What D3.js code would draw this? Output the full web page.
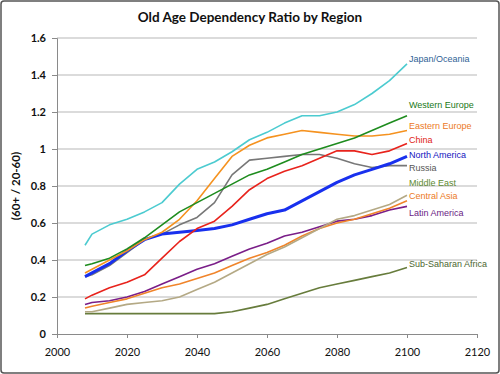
<!DOCTYPE html>
<html>
<head>
<meta charset="utf-8">
<script src="https://cdn.jsdelivr.net/npm/d3@7"></script>
<style>
  body { margin: 0; background: #fff; }
  svg { display: block; }
</style>
</head>
<body>
<div id="chart"></div>
<script>
var years = [2008, 2010, 2015, 2020, 2025, 2030, 2035, 2040, 2045, 2050, 2055, 2060, 2065, 2070, 2075, 2080, 2085, 2090, 2095, 2100];

var japan      = [0.48, 0.54, 0.59, 0.62, 0.66, 0.71, 0.81, 0.89, 0.93, 0.985, 1.05, 1.09, 1.14, 1.18, 1.18, 1.20, 1.24, 1.30, 1.37, 1.46];
var westEurope = [0.37, 0.38, 0.41, 0.46, 0.52, 0.59, 0.66, 0.71, 0.76, 0.81, 0.86, 0.89, 0.93, 0.97, 1.00, 1.03, 1.06, 1.10, 1.14, 1.18];
var eastEurope = [0.33, 0.35, 0.40, 0.45, 0.51, 0.55, 0.62, 0.72, 0.84, 0.96, 1.02, 1.06, 1.08, 1.10, 1.09, 1.08, 1.07, 1.07, 1.08, 1.10];
var china      = [0.19, 0.21, 0.25, 0.28, 0.32, 0.41, 0.50, 0.57, 0.61, 0.69, 0.78, 0.84, 0.88, 0.91, 0.95, 0.99, 0.99, 0.97, 0.99, 1.03];
var northAm    = [0.31, 0.33, 0.38, 0.45, 0.51, 0.54, 0.55, 0.56, 0.57, 0.59, 0.62, 0.65, 0.67, 0.72, 0.77, 0.82, 0.86, 0.89, 0.92, 0.96];
var russia     = [0.31, 0.32, 0.37, 0.44, 0.51, 0.54, 0.59, 0.63, 0.71, 0.86, 0.94, 0.95, 0.96, 0.97, 0.97, 0.95, 0.92, 0.90, 0.91, 0.91];
var middleEast = [0.12, 0.12, 0.14, 0.16, 0.17, 0.18, 0.20, 0.24, 0.28, 0.33, 0.38, 0.43, 0.47, 0.52, 0.57, 0.62, 0.64, 0.67, 0.70, 0.75];
var centralAsia= [0.14, 0.15, 0.17, 0.19, 0.22, 0.25, 0.27, 0.30, 0.33, 0.37, 0.41, 0.44, 0.48, 0.53, 0.57, 0.60, 0.62, 0.65, 0.68, 0.72];
var latinAm    = [0.16, 0.17, 0.18, 0.20, 0.23, 0.27, 0.31, 0.35, 0.38, 0.42, 0.46, 0.49, 0.53, 0.55, 0.58, 0.61, 0.62, 0.64, 0.67, 0.69];
var ssAfrica   = [0.11, 0.11, 0.11, 0.11, 0.11, 0.11, 0.11, 0.11, 0.11, 0.12, 0.14, 0.16, 0.19, 0.22, 0.25, 0.27, 0.29, 0.31, 0.33, 0.36];

var xTicks = [2000, 2020, 2040, 2060, 2080, 2100, 2120];
var yTicks = [0, 0.2, 0.4, 0.6, 0.8, 1, 1.2, 1.4, 1.6];

// label sits next to the line end, nudged by dy so they don't overlap
var series = [
  { name: "Japan/Oceania",      values: japan,       color: "#4ccbd0", text: "#2f5f95", dy: -5 },
  { name: "Western Europe",     values: westEurope,  color: "#1e8c1e", text: "#187818", dy: -11 },
  { name: "Eastern Europe",     values: eastEurope,  color: "#f5921f", text: "#ec7a26", dy: -5 },
  { name: "China",              values: china,       color: "#e8231c", text: "#e01a14", dy: -4 },
  { name: "North America",      values: northAm,     color: "#1830ee", text: "#1414c0", dy: -2, width: 3 },
  { name: "Russia",             values: russia,      color: "#777777", text: "#555555", dy: 2 },
  { name: "Middle East",        values: middleEast,  color: "#b4a985", text: "#5e8a30", dy: -12 },
  { name: "Central Asia",       values: centralAsia, color: "#f0842a", text: "#ec7a26", dy: -5 },
  { name: "Latin America",      values: latinAm,     color: "#7a1e88", text: "#6a1a84", dy: 6 },
  { name: "Sub-Saharan Africa", values: ssAfrica,    color: "#677c3c", text: "#4d6630", dy: -4 }
];

var W = 500, H = 374;
var margin = { top: 38, right: 23, bottom: 40, left: 57 };
var width = W - margin.left - margin.right;
var height = H - margin.top - margin.bottom;

var svg = d3.select("#chart").append("svg")
    .attr("width", W)
    .attr("height", H);

// outer frame
svg.append("rect")
    .attr("x", 1).attr("y", 1)
    .attr("width", W - 2).attr("height", H - 2)
    .attr("rx", 3)
    .attr("fill", "#fff")
    .attr("stroke", "#555")
    .attr("stroke-width", 1.5);

svg.append("text")
    .attr("x", 250).attr("y", 22)
    .attr("text-anchor", "middle")
    .style("font-family", "Lato, 'Open Sans', sans-serif")
    .style("font-weight", "bold")
    .style("font-size", "13.5px")
    .attr("fill", "#111")
    .text("Old Age Dependency Ratio by Region");

var g = svg.append("g")
    .attr("transform", "translate(" + margin.left + "," + margin.top + ")");

var x = d3.scaleLinear().domain([2000, 2120]).range([0, width]);
var y = d3.scaleLinear().domain([0, 1.6]).range([height, 0]);

// gridlines
g.append("g").selectAll("line")
    .data(yTicks.filter(function(d){ return d > 0; }))
    .enter().append("line")
    .attr("x1", 0).attr("x2", width)
    .attr("y1", function(d){ return y(d); })
    .attr("y2", function(d){ return y(d); })
    .attr("stroke", "#b8b8b8")
    .attr("stroke-width", 1.2);

var yAxis = g.append("g")
    .call(d3.axisLeft(y).tickValues(yTicks).tickSize(5).tickPadding(6)
        .tickFormat(function(d){ return d3.format("")(+d.toFixed(1)); }));
var xAxis = g.append("g")
    .attr("transform", "translate(0," + height + ")")
    .call(d3.axisBottom(x).tickValues(xTicks).tickSize(4).tickPadding(10).tickFormat(d3.format("d")));

[xAxis, yAxis].forEach(function(a){
  a.select(".domain").attr("stroke", "#8a8a8a");
  a.selectAll(".tick line").attr("stroke", "#8a8a8a");
  a.selectAll("text")
    .style("font-family", "Lato, 'Open Sans', sans-serif")
    .style("font-size", "11px")
    .attr("fill", "#111");
});
yAxis.selectAll("text").style("font-weight", "bold");

svg.append("text")
    .attr("transform", "translate(20," + (margin.top + height / 2) + ") rotate(-90)")
    .attr("text-anchor", "middle")
    .style("font-family", "Lato, 'Open Sans', sans-serif")
    .style("font-weight", "bold")
    .style("font-size", "11.5px")
    .attr("fill", "#111")
    .text("(60+ / 20-60)");

var line = d3.line()
    .x(function(d, i){ return x(years[i]); })
    .y(function(d){ return y(d); });

// draw back to front so blue/green sit on top like the original
series.slice().reverse().forEach(function(s){
  g.append("path")
    .datum(s.values)
    .attr("fill", "none")
    .attr("stroke", s.color)
    .attr("stroke-width", s.width || 1.6)
    .attr("stroke-linejoin", "round")
    .attr("d", line);
});

series.forEach(function(s){
  var last = s.values[s.values.length - 1];
  g.append("text")
    .attr("x", x(2100) + 2)
    .attr("y", y(last) + s.dy)
    .attr("dy", "0.35em")
    .style("font-family", "'Liberation Sans', Arial, sans-serif")
    .style("font-size", "9px")
    .attr("fill", s.text)
    .text(s.name);
});
</script>
</body>
</html>
